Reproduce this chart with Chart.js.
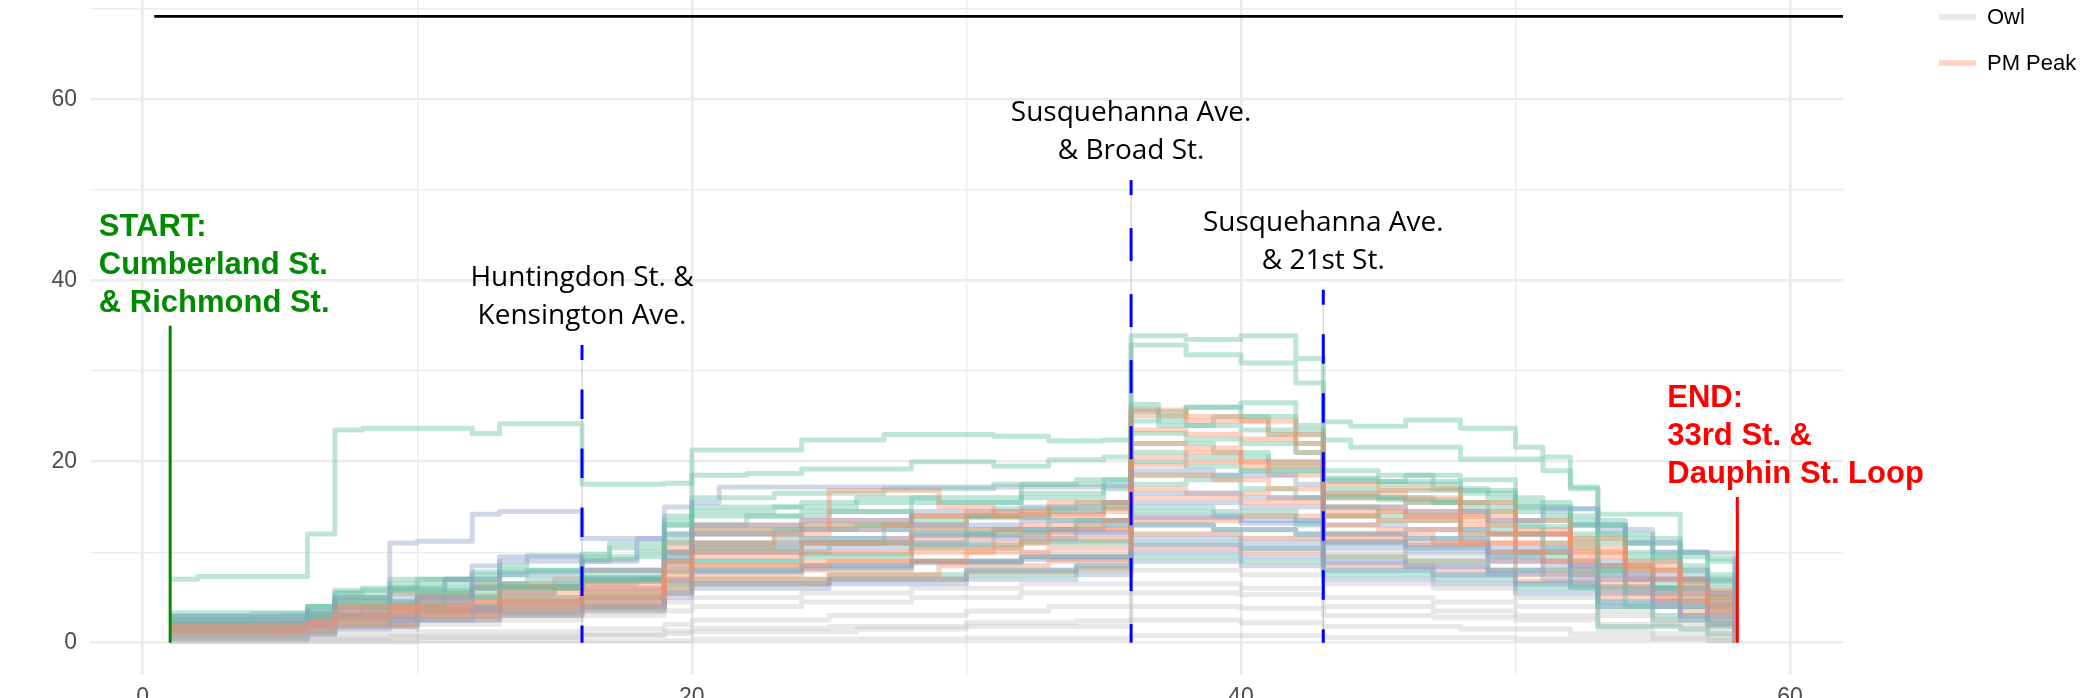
<!DOCTYPE html>
<html><head><meta charset="utf-8">
<script src="https://cdn.jsdelivr.net/npm/chart.js@4.4.1/dist/chart.umd.min.js"></script>
<style>html,body{margin:0;padding:0;background:#fff;overflow:hidden;}</style>
</head><body>
<canvas id="c" width="2091" height="698"></canvas>
<script>
// ---------- DATA ----------
const xTicks = [0, 10, 20, 30, 40, 50, 60];
const yTicks = [0, 10, 20, 30, 40, 50, 60, 70];
const xRange = [-1.92, 61.93];
const yRange = [-3.57, 71.0];

// each trip: [stop, load] change points (load held until the next stop listed)
const amPeakTrips = [
  [[1,7],[2,7.3],[6,12],[7,23.5],[8,23.7],[12,23.1],[13,24.2],[16,17.5],[19,17.6],[20,21.3],[24,22.4],[27,23],[31,22.8],[33,22.3],[35,22.4],[36,33.9],[38,33.5],[40,33.9],[42,31.4],[43,24.4],[44,23.9],[46,24.6],[48,23.7],[50,21.6],[51,20.5],[52,17.2],[53,1.8],[56,1.5],[57,1],[58,0]],
  [[1,2.5],[4,2.8],[6,3.5],[7,5],[9,6],[12,6.5],[14,7],[16,8],[19,13],[20,18.5],[22,18.7],[24,19.2],[28,20],[31,19.5],[33,20.2],[35,20.5],[36,32.9],[38,31.8],[40,30.9],[42,28.7],[43,22.4],[44,21.6],[48,20.3],[51,19],[52,17],[53,14.2],[56,10],[57,7],[58,0]],
  [[1,2],[6,3],[7,4.5],[10,5.5],[12,6],[16,7],[19,11],[20,14],[24,14.5],[28,15.5],[32,16],[35,17.5],[36,26.3],[37,25],[38,26],[40,26.5],[42,24],[43,18],[45,17.5],[48,16.5],[50,15],[52,13],[54,10],[56,7],[57,5],[58,0]],
  [[1,1.5],[5,2],[6,2.8],[8,4],[11,5],[13,6.5],[16,7.5],[19,10],[20,12],[23,12.5],[26,13],[30,13.8],[33,14.5],[35,15],[36,25.8],[37,24],[39,25],[41,23],[43,16],[46,15.5],[49,13],[51,11],[53,8],[55,6],[57,4.5],[58,0]],
  [[1,2.2],[6,3],[7,4.5],[9,5.5],[12,6],[16,6.8],[19,9],[20,10.5],[24,11],[28,12],[31,12.5],[34,13],[36,23.1],[38,22.5],[40,22],[42,21],[43,17.8],[46,18.5],[48,18],[50,15.5],[52,14.8],[53,12],[55,9.5],[57,9],[58,0]],
  [[1,1],[6,1.5],[7,2.5],[9,3.5],[12,4],[16,4.5],[19,6.5],[20,8],[24,8.5],[28,9],[32,9.5],[36,13],[39,12.5],[42,12],[43,9.5],[46,9],[49,8],[52,6],[54,4],[57,2.5],[58,0]],
  [[1,3],[4,3.2],[6,4],[7,5.5],[9,6],[11,7],[13,8],[16,9.5],[19,12],[20,13],[22,14],[25,14.5],[28,13.5],[30,14],[33,15],[35,15.5],[36,20],[38,19.5],[40,19],[43,15],[45,14],[48,12.5],[50,10],[52,8],[54,6],[56,4.5],[57,4],[58,0]],
  [[1,2],[6,2.5],[7,3.5],[9,4.5],[12,5.5],[15,6],[16,6.5],[18,7],[19,10],[20,11],[23,11.5],[27,12.5],[30,12],[33,13.5],[36,17.5],[38,18],[40,17],[42,16],[43,14],[45,13.5],[48,12],[51,10.5],[53,8.5],[55,6.5],[57,5.5],[58,0]],
  [[1,1.8],[6,2.5],[7,4],[10,5],[13,6],[16,7],[19,9.5],[20,10],[25,11],[30,12.5],[34,13.5],[36,18.5],[40,19],[43,16.5],[45,16],[47,15.5],[50,14.5],[52,13],[54,11.5],[56,10],[57,9.3],[58,0]],
  [[1,0.5],[6,1],[7,2],[10,3],[13,3.5],[16,4],[19,6],[20,7],[25,7.5],[30,8],[34,8.5],[36,11],[40,10.5],[43,8],[47,7.5],[50,6.5],[53,4.5],[55,3],[57,2],[58,0]],
  [[1,2.5],[6,3.2],[7,5],[9,6.5],[12,7.5],[14,8],[16,9],[17,10.5],[19,13.5],[20,14.5],[23,15],[26,16],[29,15.5],[32,16.5],[35,17],[36,22],[39,21],[41,20],[43,16.2],[45,15.8],[48,14.5],[50,12.8],[52,11.5],[54,9],[56,6.8],[57,6],[58,0]],
  [[1,1.2],[6,2],[7,3],[10,4],[13,5],[16,5.5],[19,8],[20,9],[24,9.5],[28,10.5],[32,11],[36,15],[39,14.5],[42,13.5],[43,11],[46,10.5],[49,9.5],[52,7.5],[54,5.5],[56,4],[57,3.5],[58,0]],
  [[1,2.8],[5,3],[6,4],[7,5.5],[8,6],[10,7],[13,8.5],[14,9.6],[16,9.2],[18,10],[19,13],[20,15],[24,15.5],[28,16],[32,17.5],[35,18],[36,25.5],[38,26],[40,25],[42,23.5],[43,19],[45,18.5],[47,17],[49,16],[51,14],[53,11],[55,8],[57,6.5],[58,0]],
  [[1,2.6],[6,3.4],[7,4.8],[9,5.8],[12,6.2],[16,7.2],[19,11.5],[20,12.5],[24,13],[28,14],[31,14.8],[34,15.5],[36,21],[38,20.5],[41,19.5],[43,17],[45,16.8],[48,15],[50,13.5],[52,12],[54,9.5],[56,7.5],[57,6.8],[58,0]],
  [[1,1.4],[6,1.9],[7,2.8],[10,3.8],[13,4.8],[16,5.2],[19,7.8],[20,9],[24,9.8],[28,10.8],[32,11.2],[36,14.5],[39,14],[42,13],[43,12],[46,11.5],[49,10],[52,8],[54,6],[56,5],[57,4.2],[58,0]],
  [[1,3.3],[6,4],[7,5.8],[9,7],[12,7.8],[16,9.8],[17,11],[19,14],[20,16],[23,16.5],[27,17],[31,17.5],[34,18],[36,24.5],[38,24],[40,23.5],[42,22],[43,18.2],[45,17.8],[48,16.8],[50,15],[52,13.5],[54,11],[56,8.5],[57,7.5],[58,0]],
  [[1,0.8],[6,1.2],[7,2],[10,2.8],[13,3.2],[16,3.8],[19,5.5],[20,6.5],[25,7],[30,7.5],[34,8],[36,9.5],[40,9],[43,7.5],[47,7],[50,6],[53,4],[55,2.5],[57,1.8],[58,0]]
];
const middayTrips = [
  [[1,2.9],[6,3.5],[7,5],[9,11],[10,11.2],[12,14.2],[13,14.5],[16,11.5],[19,15],[20,15.5],[21,17.2],[35,17.3],[36,19],[39,18.5],[42,17.5],[43,15],[46,14.5],[49,13.5],[51,14.8],[53,12.5],[55,10],[57,9.9],[58,0]],
  [[1,1.5],[6,2],[7,3],[9,4.5],[12,8.5],[13,9],[16,8],[19,10],[20,12],[24,12.5],[28,13],[32,13.5],[36,15.5],[40,15],[43,12],[46,11.5],[49,10.5],[52,8.5],[54,7],[57,5.5],[58,0]],
  [[1,0.5],[6,1],[7,1.5],[9,2.5],[12,3.5],[16,4],[19,5.5],[20,6.5],[25,7],[30,8],[34,8.5],[36,10],[40,9.5],[43,8],[47,7.5],[50,6.5],[53,4.5],[56,3],[57,2.5],[58,0]],
  [[1,2],[6,2.5],[7,3.5],[10,5],[12,6],[13,7.5],[16,7],[19,9.5],[20,11],[24,11.5],[28,12],[31,12.5],[35,13],[36,14],[40,13.5],[43,11],[46,10.5],[49,9.5],[51,8.5],[53,7],[55,5.5],[57,4.5],[58,0]],
  [[1,1],[6,1.5],[7,2.5],[10,3.5],[13,4.5],[16,5],[19,7],[20,8],[24,8.5],[28,9],[32,9.5],[36,11.5],[40,11],[43,9],[46,8.5],[49,8],[51,7],[53,5.5],[55,4],[57,3],[58,0]],
  [[1,1.8],[6,2.2],[7,3],[10,4],[13,5.5],[15,6.5],[16,6],[19,8.5],[20,10],[24,10.5],[28,11],[31,11.5],[34,12],[36,13],[39,12.5],[42,12],[43,10.5],[46,10],[49,9],[52,7.5],[55,6],[57,4],[58,0]],
  [[1,2.4],[6,3],[7,4],[9,5],[11,7],[13,9.5],[16,9],[18,11.5],[19,12],[20,13],[24,13.5],[28,14.5],[32,15],[35,15.5],[36,16.5],[40,16],[43,13],[46,12.5],[49,12],[52,13],[54,11],[56,8],[57,7],[58,0]],
  [[1,0.8],[6,1.2],[7,1.8],[10,2.5],[13,3],[16,3.5],[19,5],[20,6],[25,6.5],[30,7],[34,7.5],[36,9],[40,8.5],[43,7],[47,6.5],[50,5.5],[53,4],[56,2.5],[57,2],[58,0]],
  [[1,1.3],[6,1.7],[7,2.6],[10,3.4],[13,4.2],[16,4.8],[19,6.8],[20,7.8],[24,8.2],[28,8.8],[32,9.2],[36,10.8],[40,10.4],[43,8.8],[46,8.4],[49,7.6],[52,6.2],[55,4.6],[57,3.4],[58,0]],
  [[1,2.2],[6,2.8],[7,3.8],[10,4.8],[13,6.2],[16,6.8],[19,9],[20,10.5],[24,11],[28,11.8],[32,12.2],[36,13.8],[40,13.2],[43,11.2],[46,10.8],[49,10],[52,9],[54,7.5],[56,5.5],[57,5],[58,0]]
];
const pmPeakTrips = [
  [[1,1.8],[6,2.2],[7,3],[9,4],[12,4.5],[16,5],[19,8.5],[20,10],[24,11],[28,12.5],[32,13],[35,13.5],[36,25.7],[38,25],[40,24.5],[42,22],[43,16.5],[46,16],[48,14.5],[50,12.5],[52,10.5],[54,8],[56,5.5],[57,4.5],[58,0]],
  [[1,1.5],[6,2],[7,3.5],[10,4.5],[13,5.5],[16,6],[19,9],[20,11],[23,12],[25,16.8],[29,15],[31,14],[35,14.5],[36,25.1],[38,24.5],[41,23],[43,17.5],[45,17],[48,15.5],[50,13.5],[52,11.5],[54,9],[56,6.5],[57,5],[58,0]],
  [[1,1],[6,1.5],[7,2.5],[9,3.5],[13,4],[16,4.5],[19,7],[20,8.5],[25,9],[30,10],[33,10.5],[36,22],[38,21.5],[40,20],[43,15],[46,14],[49,12],[52,9.5],[54,7],[57,4],[58,0]],
  [[1,2],[6,2.5],[7,4],[10,5],[12,6],[16,6.5],[19,10],[20,12],[24,12.5],[27,13],[30,14.5],[33,15.5],[36,20.5],[38,21],[40,19.5],[43,14.5],[46,14],[48,13],[50,11],[53,8.5],[55,7],[57,5.5],[58,0]],
  [[1,1.2],[6,1.8],[7,2.8],[10,3.5],[13,4.5],[16,5],[19,7.5],[20,8.5],[24,9],[28,10],[31,11],[33,12.5],[36,18.5],[39,18],[41,17],[43,13],[45,12.5],[48,11],[51,9],[53,7],[55,5],[57,3.5],[58,0]],
  [[1,0.8],[6,1.2],[7,2],[10,3],[13,3.5],[16,4],[19,6],[20,7],[25,7.5],[29,8.5],[33,9],[36,16],[40,15.5],[43,12],[47,11],[50,9],[53,6.5],[55,4.5],[57,3],[58,0]],
  [[1,2.3],[6,3],[7,4.5],[9,5.5],[12,6.5],[15,7],[16,8],[19,11],[20,13],[24,13.5],[28,14],[32,14.5],[35,15],[36,19.6],[38,20],[41,18.5],[43,14],[45,13.5],[48,12],[50,10],[52,8.5],[55,7],[57,5.8],[58,0]],
  [[1,1.5],[6,2],[7,3],[10,3.8],[13,4.5],[16,5.5],[19,8],[20,9.5],[24,10],[28,10.5],[32,11.5],[36,13.5],[40,14],[43,11.5],[46,11],[49,10],[51,8],[53,6],[56,4.5],[57,3.8],[58,0]],
  [[1,1.7],[6,2.3],[7,3.2],[10,4.2],[13,5],[16,5.8],[19,9],[20,10.5],[23,11],[27,11.5],[31,12],[34,12.5],[36,17],[38,16.5],[41,16],[43,14],[45,14.5],[48,13.5],[50,12],[52,10],[54,8],[56,6],[57,5.2],[58,0]],
  [[1,1],[6,1.4],[7,2.2],[10,3],[13,3.8],[16,4.2],[19,6.5],[20,7.5],[24,8],[28,9],[32,9.5],[36,12],[40,11.5],[43,9.5],[46,9],[50,7.5],[53,5.5],[56,3.5],[57,2.8],[58,0]],
  [[1,2.1],[6,2.7],[7,4.2],[10,5.2],[13,6.2],[16,7],[19,10.5],[20,12.5],[24,13],[28,14],[32,14.2],[35,14.8],[36,23.5],[38,23],[40,22.5],[42,21],[43,16],[46,15.5],[48,14],[50,12],[52,10],[54,8.5],[56,6],[57,5],[58,0]],
  [[1,0.6],[6,1],[7,1.8],[10,2.5],[13,3],[16,3.6],[19,5.5],[20,6.5],[25,7],[30,7.8],[34,8.2],[36,10.5],[40,10],[43,8.5],[47,8],[50,6.8],[53,5],[56,3],[57,2.2],[58,0]]
];
const owlTrips = [
  [[1,0.5],[6,0.8],[7,1],[10,1.2],[16,1.5],[19,2],[20,2.5],[25,3],[30,3.5],[33,4],[36,5.5],[40,5.3],[43,4],[47,3.5],[50,3],[53,2],[56,1.5],[57,1],[58,0]],
  [[1,0.2],[6,0.4],[10,0.6],[16,0.8],[19,1],[20,1.2],[26,1.5],[30,1.8],[36,2.5],[40,2.2],[43,1.8],[48,1.5],[52,1],[55,0.5],[57,0.3],[58,0]],
  [[1,0.8],[6,1.2],[7,1.5],[10,2],[13,2.5],[16,3],[19,3.5],[20,4],[24,4.5],[28,5],[32,5.5],[36,6.5],[40,6],[43,5],[47,4.5],[50,4],[53,3],[55,2],[57,1.5],[58,0]],
  [[1,0.3],[6,0.5],[9,0.7],[16,0.9],[19,1.3],[20,1.6],[25,1.8],[30,2.2],[34,2.4],[36,4],[40,3.8],[43,3],[47,2.8],[50,2.5],[53,1.5],[55,1],[57,0.6],[58,0]],
  [[1,1],[6,1.5],[7,2],[10,2.5],[13,3],[16,3.5],[19,4.5],[20,5],[24,5.5],[28,6],[32,6.5],[36,8],[40,7.5],[43,6.5],[47,6],[50,5],[53,3.5],[55,2.5],[57,2],[58,0]],
  [[1,0.1],[10,0.2],[20,0.4],[30,0.5],[36,0.8],[43,0.6],[50,0.4],[57,0.2],[58,0]],
  [[1,1.5],[6,2],[7,3],[10,3.5],[13,4],[16,5],[19,7],[20,8],[24,8.5],[28,9],[32,10],[36,12],[40,11.5],[43,10],[46,9.5],[50,8],[53,6],[55,4.5],[57,3],[58,0]]
];

// reference lines and labels
const markerStops = [16, 36, 43];
const markerTops = [32.9, 51.1, 39.0];
const markerLabels = [
  ['Huntingdon St. &', 'Kensington Ave.'],
  ['Susquehanna Ave.', '& Broad St.'],
  ['Susquehanna Ave.', '& 21st St.']
];
const startStop = 1, startTop = 35.0, startLabelX = -1.6;
const startLabel = ['START:', 'Cumberland St.', '& Richmond St.'];
const endStop = 58.08, endTop = 16.1, endLabelX = 55.53;
const endLabel = ['END:', '33rd St. &', 'Dauphin St. Loop'];
const capacityLine = [0.42, 61.93, 69.2]; // from x, to x, at y
const legendNames = ['Owl', 'PM Peak'];

// ---------- STYLE ----------
const COLORS = {
  am: 'rgba(102,194,165,0.42)',
  midday: 'rgba(141,160,203,0.42)',
  pm: 'rgba(252,141,98,0.40)',
  owl: 'rgba(185,185,185,0.32)'
};
const groups = [
  {trips: owlTrips, color: COLORS.owl},
  {trips: middayTrips, color: COLORS.midday},
  {trips: pmPeakTrips, color: COLORS.pm},
  {trips: amPeakTrips, color: COLORS.am}
];
const datasets = [];
const maxLen = Math.max(...groups.map(g => g.trips.length));
for (let i = 0; i < maxLen; i++) {
  groups.forEach(g => {
    const t = g.trips[i];
    if (!t) return;
    datasets.push({
      data: t.map(([x, y]) => ({x, y})),
      stepped: 'before',
      borderColor: g.color,
      borderWidth: 5,
      borderJoinStyle: 'round',
      pointRadius: 0,
      fill: false
    });
  });
}

const annotPlugin = {
  id: 'annot',
  afterDatasetsDraw(chart) {
    const {ctx} = chart;
    const xs = chart.scales.x, ys = chart.scales.y;
    const X = v => xs.getPixelForValue(v), Y = v => ys.getPixelForValue(v);
    ctx.save();
    const seg = (x1, y1, x2, y2) => { ctx.beginPath(); ctx.moveTo(x1, y1); ctx.lineTo(x2, y2); ctx.stroke(); };
    // capacity line
    ctx.strokeStyle = '#000'; ctx.lineWidth = 2.7; ctx.setLineDash([]);
    seg(X(capacityLine[0]), Y(capacityLine[2]), X(capacityLine[1]), Y(capacityLine[2]));
    // dashed markers
    const dashLen = [29.5, 33, 29.5];
    markerStops.forEach((s, i) => {
      const px = X(s), y0 = Y(0), yt = Y(markerTops[i]);
      ctx.setLineDash([]); ctx.strokeStyle = 'rgba(150,150,150,0.55)'; ctx.lineWidth = 1;
      seg(px, y0, px, yt);
      ctx.strokeStyle = '#0000ff'; ctx.lineWidth = 3;
      ctx.setLineDash([dashLen[i], dashLen[i]]); ctx.lineDashOffset = dashLen[i] - 15;
      seg(px, yt, px, y0);
      ctx.setLineDash([]); ctx.lineDashOffset = 0;
      ctx.fillStyle = '#000'; ctx.font = '28px "Open Sans"'; ctx.textAlign = 'center'; ctx.textBaseline = 'alphabetic';
      const lines = markerLabels[i];
      lines.forEach((t, k) => ctx.fillText(t, px, yt - 21 - (lines.length - 1 - k) * 38));
    });
    // start / end
    const drawEnd = (stop, top, lx, lines, color) => {
      const px = X(stop), yt = Y(top);
      ctx.strokeStyle = color; ctx.lineWidth = 3;
      seg(px, Y(0), px, yt);
      ctx.fillStyle = color; ctx.font = 'bold 31px "Liberation Sans", Arial, sans-serif';
      ctx.textAlign = 'left'; ctx.textBaseline = 'alphabetic';
      lines.forEach((t, k) => ctx.fillText(t, X(lx), yt - 13.5 - (lines.length - 1 - k) * 38.3));
    };
    drawEnd(startStop, startTop, startLabelX, startLabel, '#008b00');
    drawEnd(endStop, endTop, endLabelX, endLabel, '#ff0000');
    // legend (visible part)
    const legColors = [COLORS.owl, COLORS.pm];
    const legY = [17, 63];
    legendNames.forEach((n, i) => {
      ctx.strokeStyle = legColors[i]; ctx.lineWidth = 5.5;
      seg(1939, legY[i], 1976, legY[i]);
      ctx.fillStyle = '#000'; ctx.font = '22px "Liberation Sans", Arial, sans-serif';
      ctx.textAlign = 'left'; ctx.textBaseline = 'middle';
      ctx.fillText(n, 1987, legY[i] + 1);
    });
    ctx.restore();
  }
};

const tickFont = {family: '"Liberation Sans", Arial, sans-serif', size: 23};
new Chart(document.getElementById('c'), {
  type: 'line',
  data: {datasets},
  options: {
    responsive: false,
    animation: false,
    devicePixelRatio: 1,
    layout: {padding: {top: 0, right: 248, bottom: 0, left: 0}},
    plugins: {legend: {display: false}, tooltip: {enabled: false}},
    scales: {
      x: {
        type: 'linear', min: xRange[0], max: xRange[1],
        afterBuildTicks: s => { s.ticks = xTicks.map(v => ({value: v})); },
        afterFit: s => { s.height = 23; s.paddingLeft = 0; s.paddingRight = 0; },
        ticks: {callback: v => (v % 20 === 0 ? String(v) : ''), color: '#4d4d4d', font: tickFont, padding: 9, maxRotation: 0, autoSkip: false},
        grid: {color: '#ebebeb', lineWidth: c => (c.tick && c.tick.value % 20 === 0 ? 2.6 : 1.3), drawTicks: false},
        border: {display: false}
      },
      y: {
        type: 'linear', min: yRange[0], max: yRange[1],
        afterBuildTicks: s => { s.ticks = yTicks.map(v => ({value: v})); },
        afterFit: s => { s.width = 90; s.paddingTop = 0; s.paddingBottom = 0; },
        ticks: {callback: v => (v % 20 === 0 ? String(v) : ''), color: '#4d4d4d', font: tickFont, padding: 13, autoSkip: false},
        grid: {color: '#ebebeb', lineWidth: c => (c.tick && c.tick.value % 20 === 0 ? 2.6 : 1.3), drawTicks: false},
        border: {display: false}
      }
    }
  },
  plugins: [annotPlugin]
});
</script>
</body></html>
